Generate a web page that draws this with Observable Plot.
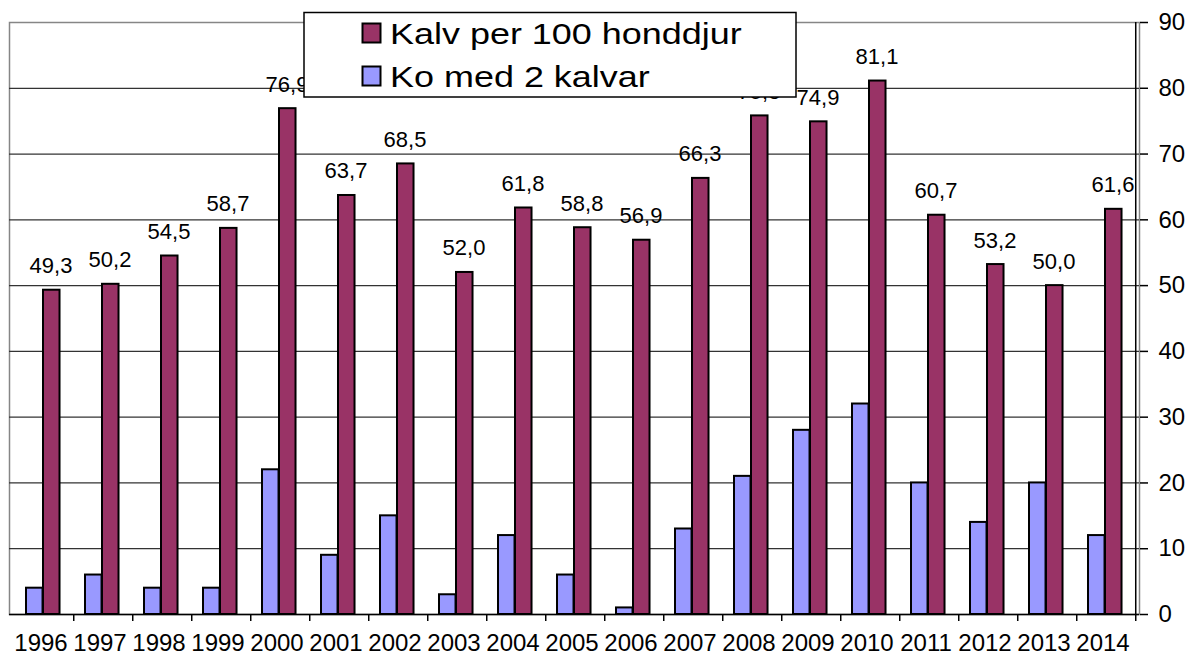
<!DOCTYPE html>
<html>
<head>
<meta charset="utf-8">
<script src="https://cdn.jsdelivr.net/npm/d3@7"></script>
<script src="https://cdn.jsdelivr.net/npm/@observablehq/plot@0.6"></script>
<style>
  html, body { margin: 0; padding: 0; background: #fff; }
  #wrap { position: relative; width: 1189px; height: 654px; overflow: hidden; font-family: "Liberation Sans", Arial, sans-serif; }
  #legend { position: absolute; left: 0; top: 0; }
</style>
</head>
<body>
<div id="wrap"></div>
<script>
// ---- data ----
const years = ["1996","1997","1998","1999","2000","2001","2002","2003","2004","2005","2006","2007","2008","2009","2010","2011","2012","2013","2014"];
const kalvPer100 = [49.3,50.2,54.5,58.7,76.9,63.7,68.5,52.0,61.8,58.8,56.9,66.3,75.8,74.9,81.1,60.7,53.2,50.0,61.6];
const koMed2 = [4,6,4,4,22,9,15,3,12,6,1,13,21,28,32,20,14,20,12];
const seriesNames = ["Kalv per 100 honddjur", "Ko med 2 kalvar"];
const seriesColors = ["#993366", "#9999FF"];
const yTicks = [0,10,20,30,40,50,60,70,80,90];

const rows = years.map((y, i) => ({year: y, kalv: kalvPer100[i], ko: koMed2[i]}));

const W = 1189, H = 654;
const mL = 9, mR = 50, mT = 22, mB = 40;
const bw = (W - mL - mR) / years.length;
const fmt = v => d3.format(".1f")(v).replace(".", ",");
const font = "Liberation Sans, Arial, sans-serif";

const chart = Plot.plot({
  width: W, height: H,
  marginLeft: mL, marginRight: mR, marginTop: mT, marginBottom: mB,
  style: {background: "#fff", fontFamily: font, color: "#000", overflow: "visible"},
  x: {type: "band", domain: years, padding: 0, label: null},
  y: {domain: [0, 90], range: [H - mB, mT], label: null},
  marks: [
    Plot.frame({stroke: "#868686", strokeWidth: 1.5}),
    Plot.ruleY(yTicks.filter(t => t > 0 && t < 90), {stroke: "#333", strokeWidth: 1.3}),
    Plot.barY(rows, {x: "year", y: "ko", fill: seriesColors[1], stroke: "#000", strokeWidth: 2, insetLeft: 12, insetRight: bw - 29}),
    Plot.barY(rows, {x: "year", y: "kalv", fill: seriesColors[0], stroke: "#000", strokeWidth: 2, insetLeft: 29, insetRight: bw - 46}),
    Plot.text(rows, {x: "year", y: "kalv", text: d => fmt(d.kalv), dx: 7, dy: -17, lineAnchor: "bottom", fontSize: 22, fill: "#000", style: {letterSpacing: "1px"}}),
    Plot.ruleY([0], {stroke: "#000", strokeWidth: 1.5}),
    Plot.ruleX([years[years.length - 1]], {dx: bw / 2, y1: 0, y2: 90, stroke: "#000", strokeWidth: 1.5}),
    Plot.axisX({tickSize: 0, tickPadding: 19, fontSize: 24, dx: -3, label: null}),
    Plot.axisX({tickSize: 7, text: null, dx: bw / 2, strokeWidth: 1.5, label: null}),
    Plot.axisY({anchor: "right", ticks: yTicks, tickSize: 8, tickPadding: 11, fontSize: 24, tickFormat: d => String(d), strokeWidth: 1.5, label: null})
  ]
});
const wrap = document.getElementById("wrap");
wrap.appendChild(chart);

// ---- legend (drawn on top, as in the reference) ----
const ns = "http://www.w3.org/2000/svg";
const leg = d3.select(wrap).append("svg")
  .attr("id", "legend").attr("width", W).attr("height", 110)
  .attr("xmlns", ns);
leg.append("rect").attr("x", 304).attr("y", 12.5).attr("width", 492).attr("height", 84.5)
  .attr("fill", "#fff").attr("stroke", "#000").attr("stroke-width", 1.5);
const baselines = [44, 87];
seriesNames.forEach((name, i) => {
  leg.append("rect").attr("x", 362.5).attr("y", baselines[i] - 20.5).attr("width", 18).attr("height", 19)
    .attr("fill", seriesColors[i]).attr("stroke", "#000").attr("stroke-width", 2);
  leg.append("text").attr("transform", `translate(390,${baselines[i]}) scale(1.24,1)`)
    .attr("font-family", font).attr("font-size", 29).attr("fill", "#000").text(name);
});
</script>
</body>
</html>
